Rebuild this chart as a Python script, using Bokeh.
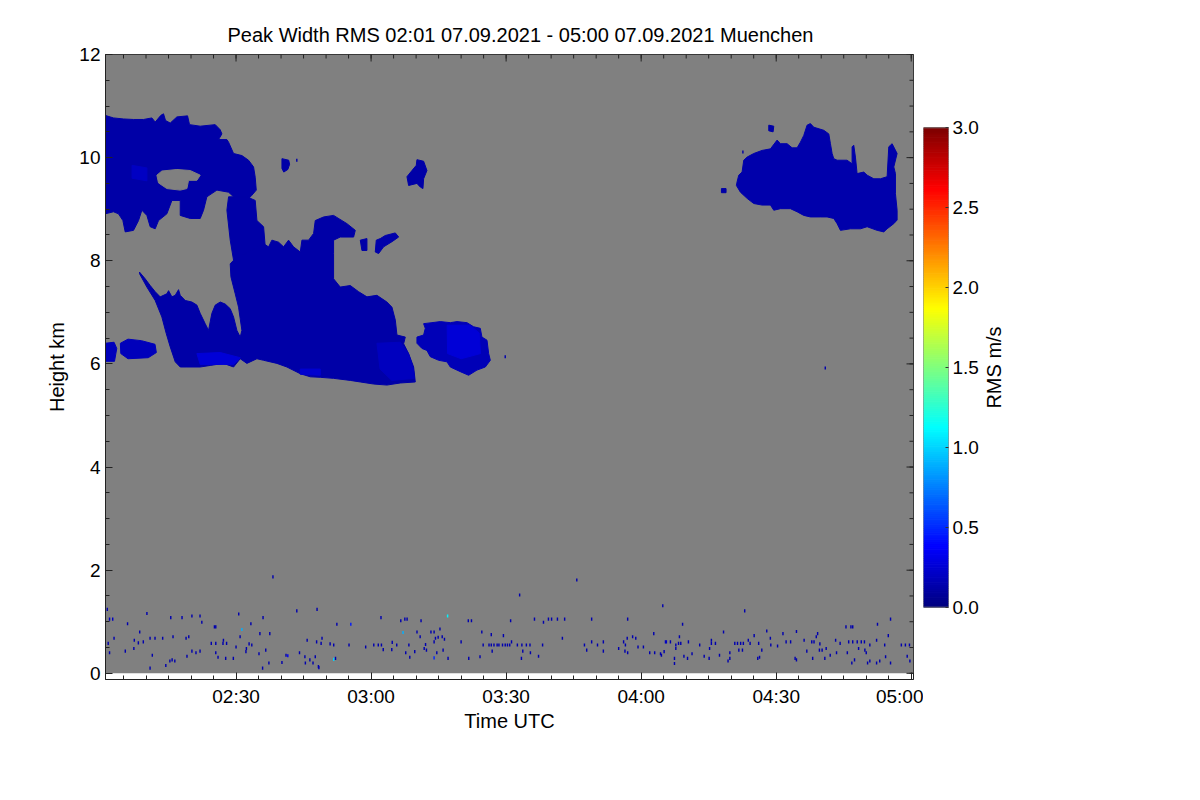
import numpy as np
from math import pi
from bokeh.plotting import figure
from bokeh.layouts import row
from bokeh.models import (ColumnDataSource, LinearColorMapper, FixedTicker,
                          BoxAnnotation, Range1d, PrintfTickFormatter)
from bokeh.core.properties import value
from bokeh.transform import transform
from bokeh.embed import file_html
from bokeh.resources import INLINE

# ---------------- data (time = minutes after 02:00 UTC, height = km) ----------------
title_text = "Peak Width RMS   02:01 07.09.2021 - 05:00 07.09.2021 Muenchen"
time_ticks = [30, 60, 90, 120, 150, 180]
time_labels = ["02:30", "03:00", "03:30", "04:00", "04:30", "05:00"]
height_ticks = [0, 2, 4, 6, 8, 10, 12]
rms_ticks = [0.0, 0.5, 1.0, 1.5, 2.0, 2.5, 3.0]
colorbar_title = "RMS m/s"

# cloud outlines (time, height)
cloud_a = [(0.9, 10.82), (2.78, 10.77), (5.01, 10.75), (7.23, 10.74), (9.45, 10.74), (11.30, 10.77),
           (12.04, 10.69), (13.30, 10.82), (13.89, 10.85), (14.34, 10.72), (15.38, 10.67), (16.86, 10.79),
           (19.23, 10.81), (19.67, 10.64), (22.04, 10.61), (25.38, 10.64), (26.49, 10.54), (26.86, 10.46),
           (26.12, 10.35), (27.97, 10.35), (28.34, 10.30), (29.45, 10.08), (31.30, 10.04), (32.78, 9.95),
           (33.89, 9.82), (34.26, 9.62), (34.49, 9.37), (33.52, 9.27), (32.41, 9.17), (29.45, 9.24),
           (28.34, 9.33), (25.75, 9.37), (23.52, 9.24), (22.78, 8.98), (22.04, 8.82), (19.82, 8.82),
           (17.60, 8.88), (17.60, 9.17), (15.75, 9.17), (14.63, 8.91), (12.78, 8.78), (12.04, 8.62),
           (10.93, 8.66), (10.19, 8.88), (9.08, 8.98), (8.34, 8.78), (7.23, 8.59), (5.38, 8.56),
           (4.86, 8.78), (3.89, 8.91), (2.78, 8.95), (0.9, 8.91)]
cloud_neck = [(28.34, 9.24), (32.41, 9.24), (34.26, 9.17), (34.64, 8.78), (36.12, 8.66), (36.49, 8.27),
              (29.45, 8.01), (28.71, 8.40), (27.97, 8.98)]
cloud_main = [(8.56, 7.78), (9.82, 7.65), (10.93, 7.52), (12.04, 7.40), (13.15, 7.30), (14.63, 7.36),
              (15.01, 7.42), (15.75, 7.30), (16.49, 7.33), (17.23, 7.44), (17.60, 7.33), (18.71, 7.23),
              (20.19, 7.20), (21.30, 7.14), (22.04, 6.98), (23.15, 6.78), (23.89, 6.65), (24.63, 6.98),
              (25.38, 7.14), (26.49, 7.20), (27.60, 7.16), (28.71, 7.07), (29.45, 6.91), (30.19, 6.65),
              (30.93, 6.52), (31.30, 6.65), (30.56, 7.10), (29.82, 7.36), (28.86, 7.69), (28.71, 7.94),
              (29.45, 8.01), (36.12, 8.33), (37.23, 8.27), (37.97, 8.40), (39.45, 8.36), (40.56, 8.27),
              (41.67, 8.40), (42.78, 8.27), (44.27, 8.17), (44.64, 8.40), (46.12, 8.40), (47.23, 8.53),
              (47.60, 8.78), (49.45, 8.85), (51.67, 8.88), (54.64, 8.72), (56.49, 8.59), (56.12, 8.46),
              (53.15, 8.46), (51.67, 8.40), (51.67, 8.14), (51.67, 7.65), (53.15, 7.49), (55.38, 7.52),
              (57.23, 7.40), (59.08, 7.30), (61.30, 7.33), (63.52, 7.20), (64.64, 7.10), (65.38, 6.85),
              (65.75, 6.56), (67.60, 6.52), (67.23, 6.39), (68.34, 6.20), (69.45, 5.94), (69.82, 5.65),
              (66.49, 5.63), (63.52, 5.59), (60.56, 5.61), (57.60, 5.65), (55.38, 5.68), (51.67, 5.72),
              (48.71, 5.74), (46.49, 5.75), (44.27, 5.81), (41.30, 5.94), (39.08, 6.01), (36.12, 6.07),
              (34.64, 6.10), (32.41, 6.01), (30.93, 6.10), (29.45, 5.94), (27.23, 6.01), (24.26, 5.97),
              (22.04, 5.94), (19.08, 5.94), (17.60, 5.94), (16.49, 6.04), (15.38, 6.33), (14.49, 6.59),
              (13.52, 6.91), (12.04, 7.23), (10.19, 7.49), (8.56, 7.75)]
cloud_left_low = [(0.9, 6.40), (2.9, 6.42), (3.5, 6.30), (3.0, 6.05), (0.9, 6.05)]
cloud_left_low2 = [(4.3, 6.40), (6.0, 6.48), (9.0, 6.45), (12.0, 6.38), (12.3, 6.22), (10.5, 6.12),
                   (6.0, 6.10), (4.4, 6.20)]
cloud_c = [(71.67, 6.78), (73.52, 6.80), (75.38, 6.82), (77.60, 6.80), (79.08, 6.82), (81.30, 6.80),
           (82.78, 6.72), (84.26, 6.69), (84.63, 6.52), (85.75, 6.46), (86.12, 6.20), (86.49, 6.07),
           (85.38, 5.94), (83.52, 5.88), (81.67, 5.78), (79.82, 5.85), (77.60, 5.94), (76.86, 6.04),
           (75.01, 6.07), (73.15, 6.14), (72.41, 6.26), (71.30, 6.30), (70.19, 6.40), (70.19, 6.52),
           (71.67, 6.56), (72.04, 6.69)]
cloud_d = [(141.31, 9.53), (141.68, 9.66), (142.42, 9.72), (142.79, 9.95), (143.53, 10.01), (145.01, 10.08),
           (146.86, 10.14), (148.72, 10.17), (150.20, 10.34), (150.94, 10.27), (152.42, 10.27), (153.53, 10.19),
           (154.64, 10.19), (155.38, 10.30), (156.12, 10.43), (156.86, 10.63), (157.60, 10.66), (158.35, 10.59),
           (160.57, 10.53), (161.68, 10.46), (162.05, 10.27), (162.42, 10.08), (162.79, 9.98), (163.53, 9.95),
           (165.75, 9.95), (166.86, 9.88), (166.86, 10.21), (167.23, 10.24), (167.60, 10.01), (167.97, 9.69),
           (169.46, 9.72), (170.20, 9.66), (171.68, 9.59), (173.16, 9.59), (174.64, 9.63), (175.01, 10.21),
           (175.75, 10.27), (176.86, 10.08), (176.12, 9.82), (176.49, 9.69), (176.49, 9.30), (176.86, 8.98),
           (176.86, 8.79), (176.12, 8.72), (174.64, 8.62), (173.90, 8.56), (172.42, 8.59), (170.20, 8.66),
           (168.72, 8.62), (166.49, 8.62), (164.27, 8.59), (163.53, 8.72), (162.79, 8.82), (161.31, 8.85),
           (159.83, 8.85), (157.60, 8.85), (156.12, 8.88), (154.64, 8.95), (153.16, 9.01), (150.94, 9.01),
           (149.46, 8.98), (148.72, 9.08), (146.86, 9.08), (145.01, 9.11), (143.53, 9.21), (142.05, 9.33),
           (141.16, 9.46)]
blob_0240 = [(40.2, 9.98), (41.7, 9.95), (41.9, 9.87), (41.5, 9.77), (40.6, 9.72), (40.2, 9.79)]
blob_0258 = [(57.60, 8.40), (59.08, 8.43), (59.08, 8.20), (57.97, 8.20)]
blob_0302 = [(63.15, 8.49), (65.38, 8.54), (66.12, 8.46), (64.64, 8.37), (62.78, 8.27), (61.67, 8.14),
             (60.93, 8.17), (61.15, 8.40), (62.04, 8.43)]
blob_0310 = [(70.19, 9.96), (71.67, 9.93), (72.41, 9.75), (71.67, 9.59), (71.52, 9.40), (70.93, 9.43),
             (70.19, 9.50), (68.34, 9.46), (67.97, 9.63), (69.08, 9.75), (70.04, 9.85)]
blob_0429 = [(148.35, 10.63), (149.46, 10.61), (149.31, 10.50), (148.35, 10.52)]
blob_0418 = [(137.83, 9.40), (138.86, 9.40), (138.86, 9.32), (137.83, 9.32)]
bright_a = [(6.9, 9.85), (10.2, 9.80), (10.2, 9.55), (6.9, 9.60)]
bright_lobe = [(21.30, 6.20), (26.49, 6.22), (30.93, 6.12), (29.45, 5.99), (22.04, 5.99)]
bright_mid = [(44.27, 5.90), (48.71, 5.90), (48.71, 5.78), (44.27, 5.80)]
bright_right = [(61.3, 6.40), (66.5, 6.42), (68.3, 6.20), (69.4, 5.90), (69.6, 5.72), (64.6, 5.68),
                (62.0, 5.90)]
bright_c = [(76.9, 6.75), (82.0, 6.75), (84.0, 6.60), (84.3, 6.20), (80.0, 6.10), (77.0, 6.20)]
hole_a = [(12.41, 9.66), (13.52, 9.74), (16.86, 9.77), (19.82, 9.75), (22.04, 9.66), (21.30, 9.56),
          (19.45, 9.56), (19.08, 9.40), (17.60, 9.37), (14.63, 9.40), (12.78, 9.51)]

cloud_shapes = [cloud_a, cloud_neck, cloud_main, cloud_left_low, cloud_left_low2, cloud_c, cloud_d,
                blob_0240, blob_0258, blob_0302, blob_0310, blob_0429, blob_0418,
                bright_a, bright_lobe, bright_mid, bright_right, bright_c]
cloud_rms = [0.12, 0.12, 0.12, 0.18, 0.18, 0.17, 0.13,
             0.12, 0.12, 0.13, 0.12, 0.12, 0.12,
             0.2, 0.26, 0.24, 0.19, 0.26]
hole_shapes = [hole_a]

# isolated returns (time, height, rms)
noise_points = [
    (38.2, 1.87, 0.15), (1.4, 1.24, 0.15), (1.9, 1.05, 0.2), (2.6, 1.05, 0.2), (10.2, 1.16, 0.15),
    (15.5, 1.08, 0.15), (18.0, 1.08, 0.15), (20.2, 1.11, 0.15), (22.0, 1.11, 0.15), (30.6, 1.15, 0.15),
    (36.0, 1.08, 0.15), (43.5, 1.21, 0.15), (48.0, 1.24, 0.15), (5.9, 0.96, 0.15), (22.4, 0.99, 0.15),
    (25.2, 0.90, 0.15), (25.5, 0.90, 0.15), (33.3, 0.96, 0.15), (31.3, 0.85, 0.9), (52.4, 0.95, 0.15),
    (55.5, 0.95, 0.45), (62.2, 1.08, 0.15), (66.6, 1.02, 0.15), (67.5, 1.05, 0.15), (68.0, 1.05, 0.15),
    (71.1, 1.02, 0.15), (77.0, 1.11, 1.1), (81.6, 1.02, 0.15), (82.3, 1.02, 0.15), (8.6, 0.80, 0.15),
    (2.9, 0.68, 0.15), (7.4, 0.64, 0.15), (9.4, 0.61, 0.15), (10.9, 0.68, 0.15), (12.0, 0.68, 0.15),
    (13.7, 0.68, 0.15), (16.0, 0.71, 0.15), (18.9, 0.68, 0.15), (19.5, 0.71, 0.15), (27.2, 0.64, 0.15),
    (30.9, 0.71, 0.15), (35.3, 0.77, 0.15), (37.5, 0.77, 0.15), (45.8, 0.64, 0.15), (49.1, 0.68, 0.15),
    (1.6, 0.58, 0.15), (8.3, 0.59, 0.15), (24.5, 0.58, 0.15), (25.5, 0.58, 0.15), (27.1, 0.58, 0.15),
    (27.9, 0.58, 0.15), (30.0, 0.51, 0.15), (32.9, 0.57, 0.15), (33.5, 0.55, 0.15), (32.3, 0.48, 0.15),
    (36.6, 0.45, 0.15), (47.9, 0.61, 0.15), (48.9, 0.58, 0.15), (50.9, 0.57, 0.15), (51.7, 0.55, 0.15),
    (55.1, 0.55, 0.15), (58.8, 0.51, 0.15), (60.6, 0.55, 0.15), (61.6, 0.55, 0.15), (62.3, 0.55, 0.15),
    (64.7, 0.60, 0.15), (65.7, 0.55, 0.15), (68.4, 0.55, 0.15), (72.1, 0.56, 0.15), (74.0, 0.61, 0.15),
    (74.3, 0.68, 0.15), (74.9, 0.70, 0.15), (75.8, 0.71, 0.15), (76.3, 0.66, 0.15), (70.2, 0.80, 0.15),
    (70.9, 0.71, 0.15), (73.3, 0.80, 0.15), (74.0, 0.80, 0.15), (67.1, 0.79, 0.9), (75.3, 0.86, 0.15),
    (80.0, 0.61, 0.15), (84.6, 0.80, 0.15), (86.7, 0.75, 0.15), (89.4, 0.73, 0.15), (84.9, 0.55, 0.15),
    (86.2, 0.55, 0.15), (86.7, 0.55, 0.15), (87.3, 0.55, 0.15), (88.0, 0.55, 0.15), (88.4, 0.55, 0.15),
    (89.2, 0.55, 0.15), (90.3, 0.55, 0.15), (1.9, 0.40, 0.15), (5.4, 0.43, 0.15), (7.3, 0.48, 0.15),
    (11.4, 0.35, 0.15), (19.1, 0.33, 0.15), (20.2, 0.43, 0.15), (21.1, 0.40, 0.15), (22.0, 0.43, 0.15),
    (25.5, 0.40, 0.15), (26.0, 0.31, 0.15), (27.7, 0.29, 0.15), (29.4, 0.29, 0.15), (32.2, 0.42, 0.15),
    (35.1, 0.38, 0.15), (41.1, 0.35, 0.15), (41.5, 0.34, 0.35), (44.1, 0.40, 0.15), (45.3, 0.32, 0.15),
    (46.4, 0.26, 0.15), (47.6, 0.32, 0.15), (45.4, 0.20, 0.15), (47.1, 0.20, 0.15), (48.3, 0.13, 0.15),
    (51.7, 0.27, 1.0), (52.1, 0.29, 0.15), (62.7, 0.46, 0.15), (64.6, 0.46, 0.15), (67.7, 0.40, 0.15),
    (68.6, 0.31, 0.15), (69.7, 0.42, 0.15), (71.8, 0.48, 0.15), (72.3, 0.45, 0.15), (74.0, 0.30, 0.5),
    (74.6, 0.40, 0.15), (76.0, 0.45, 0.15), (77.1, 0.29, 0.15), (81.7, 0.29, 0.15), (84.2, 0.32, 0.15),
    (86.9, 0.43, 0.15), (10.9, 0.10, 0.15), (14.4, 0.15, 0.15), (15.3, 0.24, 0.15), (15.8, 0.26, 0.15),
    (16.4, 0.24, 0.15), (35.9, 0.10, 0.15), (37.3, 0.20, 0.15), (40.2, 0.21, 0.15), (48.4, 0.11, 0.15),
    (105.7, 1.81, 0.15), (93.0, 1.52, 0.15), (124.8, 1.31, 0.15), (143.0, 1.21, 0.15), (91.0, 1.02, 0.15),
    (96.3, 1.05, 0.15), (98.3, 0.99, 0.15), (99.4, 1.05, 0.15), (100.1, 1.05, 0.15), (101.4, 1.05, 0.15),
    (103.0, 1.05, 0.15), (109.0, 1.05, 0.15), (117.0, 1.05, 0.15), (129.2, 0.95, 0.15), (138.3, 0.80, 0.15),
    (147.9, 0.82, 0.15), (151.5, 0.77, 0.15), (154.5, 0.81, 0.15), (159.2, 0.77, 0.15), (165.5, 0.90, 0.15),
    (166.6, 0.90, 0.15), (167.0, 0.90, 0.15), (172.5, 0.95, 0.15), (175.4, 1.05, 0.15), (102.5, 0.68, 0.15),
    (116.9, 0.68, 0.15), (118.1, 0.71, 0.15), (118.8, 0.68, 0.15), (122.8, 0.77, 0.15), (128.5, 0.71, 0.15),
    (145.1, 0.73, 0.15), (148.7, 0.68, 0.15), (158.9, 0.71, 0.15), (174.9, 0.73, 0.15), (89.8, 0.55, 0.15),
    (90.8, 0.55, 0.15), (92.5, 0.55, 0.15), (93.5, 0.55, 0.15), (94.5, 0.55, 0.15), (95.3, 0.55, 0.15),
    (91.2, 0.61, 0.15), (98.1, 0.55, 0.15), (107.4, 0.55, 0.15), (109.0, 0.61, 0.15), (110.3, 0.55, 0.15),
    (111.6, 0.61, 0.15), (116.1, 0.61, 0.15), (116.5, 0.55, 0.15), (119.3, 0.51, 0.15), (120.5, 0.51, 0.15),
    (125.4, 0.61, 0.2), (125.6, 0.61, 0.2), (126.5, 0.61, 0.15), (127.7, 0.55, 0.15), (128.3, 0.58, 0.15),
    (128.8, 0.58, 0.15), (130.5, 0.61, 0.15), (133.0, 0.55, 0.15), (135.6, 0.64, 0.15), (135.6, 0.58, 0.15),
    (136.5, 0.58, 0.15), (140.8, 0.58, 0.15), (141.4, 0.58, 0.15), (142.1, 0.58, 0.15), (142.7, 0.58, 0.15),
    (143.8, 0.64, 0.15), (144.2, 0.58, 0.15), (146.1, 0.58, 0.15), (148.8, 0.55, 0.15), (150.3, 0.53, 0.15),
    (152.2, 0.61, 0.15), (153.2, 0.61, 0.15), (156.2, 0.64, 0.15), (157.9, 0.61, 0.15), (158.4, 0.61, 0.15),
    (159.7, 0.57, 0.15), (163.2, 0.64, 0.15), (164.2, 0.58, 0.15), (166.1, 0.61, 0.15), (167.0, 0.61, 0.15),
    (168.0, 0.61, 0.15), (168.9, 0.61, 0.15), (169.6, 0.61, 0.15), (170.8, 0.55, 0.15), (172.3, 0.64, 0.15),
    (174.1, 0.55, 0.15), (177.8, 0.55, 0.15), (178.7, 0.55, 0.15), (179.6, 0.55, 0.15), (107.9, 0.45, 0.15),
    (111.6, 0.43, 0.15), (115.0, 0.48, 0.15), (116.4, 0.43, 0.15), (117.0, 0.40, 0.15), (121.9, 0.40, 0.15),
    (123.0, 0.40, 0.15), (124.3, 0.38, 0.15), (124.5, 0.35, 0.15), (125.1, 0.42, 0.15), (127.7, 0.48, 0.15),
    (131.3, 0.38, 0.15), (135.2, 0.48, 0.15), (139.7, 0.40, 0.15), (141.7, 0.45, 0.15), (142.5, 0.45, 0.15),
    (146.8, 0.45, 0.15), (156.8, 0.43, 0.15), (159.6, 0.45, 0.15), (160.2, 0.45, 0.15), (161.1, 0.48, 0.15),
    (162.0, 0.35, 0.15), (163.4, 0.40, 0.15), (165.8, 0.40, 0.15), (168.3, 0.48, 0.15), (169.7, 0.45, 0.15),
    (170.0, 0.40, 0.15), (179.1, 0.33, 0.15), (93.4, 0.29, 0.15), (95.4, 0.40, 0.15), (97.2, 0.33, 0.15),
    (93.7, 0.43, 0.15), (127.4, 0.29, 0.15), (127.4, 0.19, 0.15), (129.5, 0.33, 0.15), (130.3, 0.29, 0.15),
    (134.0, 0.33, 0.15), (135.1, 0.29, 0.15), (137.4, 0.35, 0.15), (139.3, 0.24, 0.15), (139.7, 0.29, 0.15),
    (145.9, 0.29, 0.15), (146.3, 0.31, 0.15), (154.2, 0.29, 0.15), (154.5, 0.26, 0.15), (158.1, 0.29, 0.15),
    (160.8, 0.29, 0.15), (166.8, 0.20, 0.15), (167.4, 0.26, 0.15), (170.3, 0.20, 0.15), (170.8, 0.24, 0.15),
    (172.3, 0.20, 0.15), (173.0, 0.24, 0.15), (174.3, 0.32, 0.15), (175.4, 0.20, 0.15), (179.7, 0.24, 0.15),
    (89.8, 6.14, 0.15), (160.9, 5.92, 0.15), (43.5, 9.95, 0.12), (142.6, 10.11, 0.12),
]

# ---------------- style / layout ----------------
FONT = "Liberation Sans"
GRAY = "#808080"
AXIS_COLOR = "#222222"
FRAME_W, FRAME_H = 808, 625
LEFT, TOP, RIGHT = 105, 54, 10
FIG_H = 780
BOTTOM = FIG_H - TOP - FRAME_H
X0, X1 = 1.0, 180.5
Y0, Y1 = -0.12, 12.0
MAJOR_IN, MINOR_IN = 7, 4


def jet(n):
    cols = []
    for i in range(n):
        f = i / (n - 1)
        r = min(max(1.5 - abs(4 * f - 3), 0), 1)
        g = min(max(1.5 - abs(4 * f - 2), 0), 1)
        b = min(max(1.5 - abs(4 * f - 1), 0), 1)
        cols.append("#%02x%02x%02x" % (int(r * 255), int(g * 255), int(b * 255)))
    return cols


palette = jet(256)
mapper = LinearColorMapper(palette=palette, low=rms_ticks[0], high=rms_ticks[-1])

p = figure(width=LEFT + FRAME_W + RIGHT, height=FIG_H, x_range=Range1d(X0, X1), y_range=Range1d(Y0, Y1),
           min_border_left=LEFT, min_border_right=RIGHT, min_border_top=TOP, min_border_bottom=BOTTOM,
           toolbar_location=None, output_backend="svg", title=title_text)
p.xgrid.visible = False
p.ygrid.visible = False
p.background_fill_color = "white"
p.border_fill_color = "white"
p.outline_line_color = AXIS_COLOR
p.title.text_font = FONT
p.title.text_font_size = "20px"
p.title.text_font_style = "normal"
p.title.align = "left"
p.title.offset = 122
p.title.standoff = 18
p.title.text_color = "black"

# gray "no data" field from the ground upward
p.add_layout(BoxAnnotation(bottom=height_ticks[0], fill_color=GRAY, fill_alpha=1.0,
                           line_color=None, level="underlay"))

cloud_src = ColumnDataSource(dict(
    xs=[[pt[0] for pt in s] for s in cloud_shapes],
    ys=[[pt[1] for pt in s] for s in cloud_shapes],
    v=cloud_rms))
p.patches("xs", "ys", source=cloud_src, fill_color=transform("v", mapper),
          line_color=transform("v", mapper), line_width=1)
hole_src = ColumnDataSource(dict(
    xs=[[pt[0] for pt in s] for s in hole_shapes],
    ys=[[pt[1] for pt in s] for s in hole_shapes]))
p.patches("xs", "ys", source=hole_src, fill_color=GRAY, line_color=GRAY, line_width=1)

noise_src = ColumnDataSource(dict(t=[q[0] for q in noise_points], h=[q[1] for q in noise_points],
                                  v=[q[2] for q in noise_points]))
p.rect("t", "h", width=0.32, height=0.06, source=noise_src,
       fill_color=transform("v", mapper), line_color=None)

x_minor = [m for m in range(5, 181, 5)]
y_minor = [k * 0.5 for k in range(0, 25)]


def style_axis(ax, font_px="19px"):
    ax.major_tick_in = MAJOR_IN
    ax.major_tick_out = 0
    ax.minor_tick_in = MINOR_IN
    ax.minor_tick_out = 0
    ax.axis_line_color = AXIS_COLOR
    ax.major_tick_line_color = AXIS_COLOR
    ax.minor_tick_line_color = AXIS_COLOR
    ax.major_label_text_font = FONT
    ax.major_label_text_font_size = font_px
    ax.major_label_text_color = "black"
    ax.axis_label_text_font = FONT
    ax.axis_label_text_font_size = "20px"
    ax.axis_label_text_font_style = "normal"
    ax.axis_label_text_color = "black"


xt = FixedTicker(ticks=time_ticks, minor_ticks=x_minor)
yt = FixedTicker(ticks=height_ticks, minor_ticks=y_minor)
p.xaxis.ticker = xt
p.xaxis.major_label_overrides = dict(zip(time_ticks, time_labels))
p.xaxis.axis_label = "Time UTC"
style_axis(p.xaxis[0])
p.xaxis.major_label_standoff = 6
p.xaxis.axis_label_standoff = 0
p.yaxis.ticker = yt
p.yaxis.axis_label = "Height km"
style_axis(p.yaxis[0])
p.yaxis.major_label_standoff = 5
p.yaxis.axis_label_standoff = 8

# mirrored tick marks along the top and right frame edges (same tick values as the axes)
kpx = FRAME_H / (Y1 - Y0)
mpx = FRAME_W / (X1 - X0)
top_x = time_ticks + x_minor
top_len = [MAJOR_IN / kpx] * len(time_ticks) + [MINOR_IN / kpx] * len(x_minor)
p.segment(x0=top_x, y0=[Y1] * len(top_x), x1=top_x, y1=[Y1 - d for d in top_len],
          line_color=AXIS_COLOR, line_width=1)
right_y = height_ticks + y_minor
right_len = [MAJOR_IN / mpx] * len(height_ticks) + [MINOR_IN / mpx] * len(y_minor)
p.segment(x0=[X1] * len(right_y), y0=right_y, x1=[X1 - d for d in right_len], y1=right_y,
          line_color=AXIS_COLOR, line_width=1)

# ---------------- colour bar ----------------
BAR_TOP, BAR_BOTTOM = 127.3, 606.7   # pixel rows of the bar inside the shared frame rows
per_px = (rms_ticks[-1] - rms_ticks[0]) / (BAR_BOTTOM - BAR_TOP)
cb_y0 = rms_ticks[0] - (TOP + FRAME_H - BAR_BOTTOM) * per_px
cb_y1 = rms_ticks[-1] + (BAR_TOP - TOP) * per_px
levels = np.linspace(rms_ticks[0], rms_ticks[-1], 257)
cb_src = ColumnDataSource(dict(bottom=levels[:-1], top=levels[1:],
                               v=(levels[:-1] + levels[1:]) / 2))
p2 = figure(width=60, height=FIG_H, x_range=Range1d(0, 1), y_range=Range1d(cb_y0, cb_y1),
            min_border_left=0, min_border_right=35, min_border_top=TOP, min_border_bottom=BOTTOM,
            toolbar_location=None, output_backend="svg", y_axis_location="right")
p2.xaxis.visible = False
p2.xgrid.visible = False
p2.ygrid.visible = False
p2.outline_line_color = None
p2.background_fill_color = "white"
p2.quad(left=0, right=1, bottom="bottom", top="top", source=cb_src,
        fill_color=transform("v", mapper), line_color=transform("v", mapper), line_width=1)
p2.quad(left=0, right=1, bottom=rms_ticks[0], top=rms_ticks[-1], fill_color=None,
        line_color="#707070", line_width=1)
p2.yaxis.ticker = FixedTicker(ticks=rms_ticks)
p2.yaxis.formatter = PrintfTickFormatter(format="%.1f")
style_axis(p2.yaxis[0])
p2.yaxis.axis_line_color = None
p2.yaxis.major_tick_in = 3
p2.yaxis.major_tick_line_color = "#333333"
p2.yaxis.major_label_standoff = 4

# colour-bar title, reading upward, in its own narrow strip
p3 = figure(width=40, height=FIG_H, x_range=Range1d(0, 40), y_range=Range1d(cb_y0, cb_y1),
            min_border_left=0, min_border_right=0, min_border_top=TOP, min_border_bottom=BOTTOM,
            toolbar_location=None, output_backend="svg")
p3.axis.visible = False
p3.xgrid.visible = False
p3.ygrid.visible = False
p3.outline_line_color = None
p3.text(x=[10], y=[(rms_ticks[0] + rms_ticks[-1]) / 2], text=[colorbar_title], angle=pi / 2,
        text_align="center", text_baseline="middle", text_font=value(FONT),
        text_font_size="20px", text_color="black")

layout = row(p, p2, p3)
open("out.html", "w").write(file_html(layout, INLINE))
